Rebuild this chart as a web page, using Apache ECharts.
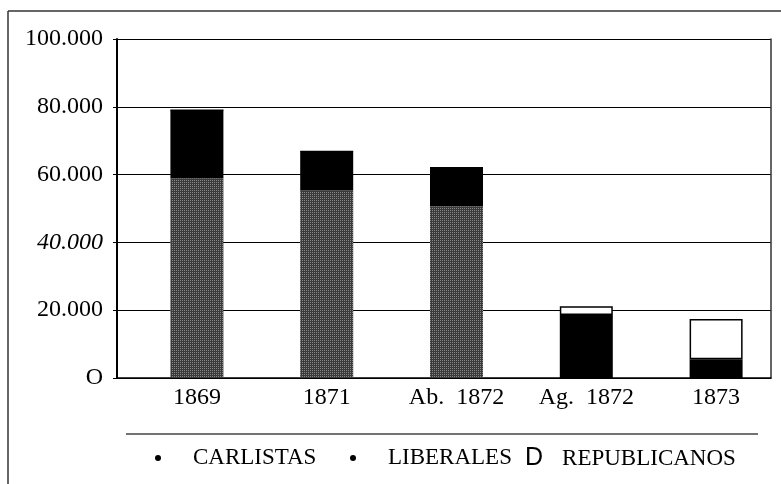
<!DOCTYPE html>
<html>
<head>
<meta charset="utf-8">
<script src="https://cdn.jsdelivr.net/npm/echarts@6/dist/echarts.min.js"></script>
<style>html,body{margin:0;padding:0;background:#fff}#c{width:781px;height:484px}</style>
</head>
<body>
<div id="c"></div>
<script>
var categories = ['1869', '1871', 'Ab.  1872', 'Ag.  1872', '1873'];
var carlistas = [58900, 55300, 50700, 0, 0];
var liberales = [20100, 11500, 11300, 18600, 5500];
var republicanos = [0, 0, 0, 2600, 11900];
var yTickLabels = ['O', '20.000', '40.000', '60.000', '80.000', '100.000'];
var italicTicks = ['40.000'];

var chart = echarts.init(document.getElementById('c'));
var serif = '"Liberation Serif", "Times New Roman", serif';
var option = {
  animation: false,
  backgroundColor: '#fff',
  grid: [
    {left: 117, right: 10, top: 39, bottom: 106},
    {left: 132, right: -1, top: 39, bottom: 106}
  ],
  xAxis: [
    {type: 'category', gridIndex: 0, data: categories,
     axisLine: {show: true, lineStyle: {color: '#000', width: 1.5}},
     axisTick: {show: false}, axisLabel: {show: false}, splitLine: {show: false}},
    {type: 'category', gridIndex: 1, data: categories,
     axisLine: {show: false}, axisTick: {show: false},
     axisLabel: {show: true, fontFamily: serif, fontSize: 24, color: '#000', margin: 8}}
  ],
  yAxis: [
    {type: 'value', gridIndex: 0, min: 0, max: 100000, interval: 20000,
     axisLine: {show: true, lineStyle: {color: '#000', width: 2}},
     axisTick: {show: true, inside: false, length: 4, lineStyle: {color: '#000', width: 1}},
     splitLine: {show: true, lineStyle: {color: '#000', width: 1}},
     axisLabel: {margin: 14, fontFamily: serif, fontSize: 24, color: '#000',
       formatter: function (v) {
         var t = yTickLabels[Math.round(v / 20000)];
         return italicTicks.indexOf(t) >= 0 ? '{i|' + t + '}' : t;
       },
       rich: {i: {fontFamily: serif, fontSize: 24, fontStyle: 'italic', color: '#000'}}}},
    {type: 'value', gridIndex: 0, position: 'right', min: 0, max: 100000, interval: 20000,
     axisLine: {show: true, lineStyle: {color: '#333', width: 1.5}},
     axisTick: {show: false}, axisLabel: {show: false}, splitLine: {show: false}},
    {type: 'value', gridIndex: 1, min: 0, max: 100000, interval: 20000, show: false}
  ],
  legend: [
    {left: 150, top: 441, padding: 5, itemWidth: 6, itemHeight: 6,
     data: [{name: 'CARLISTAS', icon: 'circle', itemStyle: {color: '#000', borderWidth: 0, decal: 'none'}}],
     formatter: function (n) { return '{s|}' + n; },
     textStyle: {fontFamily: serif, fontSize: 23, color: '#000', lineHeight: 24,
       rich: {s: {width: 27}}}},
    {left: 345, top: 441, padding: 5, itemWidth: 6, itemHeight: 6,
     data: [{name: 'LIBERALES', icon: 'circle', itemStyle: {color: '#000', borderWidth: 0}}],
     formatter: function (n) { return '{s|}' + n; },
     textStyle: {fontFamily: serif, fontSize: 23, color: '#000', lineHeight: 24,
       rich: {s: {width: 27}}}},
    {left: 515, top: 441, padding: 5, itemWidth: 0, itemHeight: 6,
     data: [{name: 'REPUBLICANOS', icon: 'none'}],
     formatter: function (n) { return '{d|D}{s|}' + n; },
     textStyle: {fontFamily: serif, fontSize: 23, color: '#000', lineHeight: 24,
       rich: {d: {fontFamily: '"Liberation Sans", Arial, sans-serif', fontSize: 25, color: '#000', lineHeight: 24},
              s: {width: 19}}}}
  ],
  graphic: [
    {type: 'line', shape: {x1: 8, y1: 11, x2: 781, y2: 11}, style: {stroke: '#333', lineWidth: 1.5}},
    {type: 'line', shape: {x1: 8, y1: 11, x2: 8, y2: 484}, style: {stroke: '#333', lineWidth: 1.5}},
    {type: 'line', shape: {x1: 126, y1: 434, x2: 758, y2: 434}, style: {stroke: '#444', lineWidth: 1.5}}
  ],
  series: [
    {name: 'CARLISTAS', type: 'bar', stack: 's', xAxisIndex: 1, yAxisIndex: 2, barWidth: 53,
     data: carlistas,
     itemStyle: {color: '#3a3a3a',
       decal: {symbol: 'rect', symbolSize: 1, dashArrayX: [1, 1], dashArrayY: [1, 1],
               color: 'rgba(200,200,200,0.55)', rotation: 0}}},
    {name: 'LIBERALES', type: 'bar', stack: 's', xAxisIndex: 1, yAxisIndex: 2, barWidth: 53,
     data: liberales, itemStyle: {color: '#000'}},
    {name: 'REPUBLICANOS', type: 'bar', stack: 's', xAxisIndex: 1, yAxisIndex: 2, barWidth: 53,
     data: republicanos, itemStyle: {color: '#fff', borderColor: '#000', borderWidth: 1.5}}
  ]
};
chart.setOption(option);
</script>
</body>
</html>
